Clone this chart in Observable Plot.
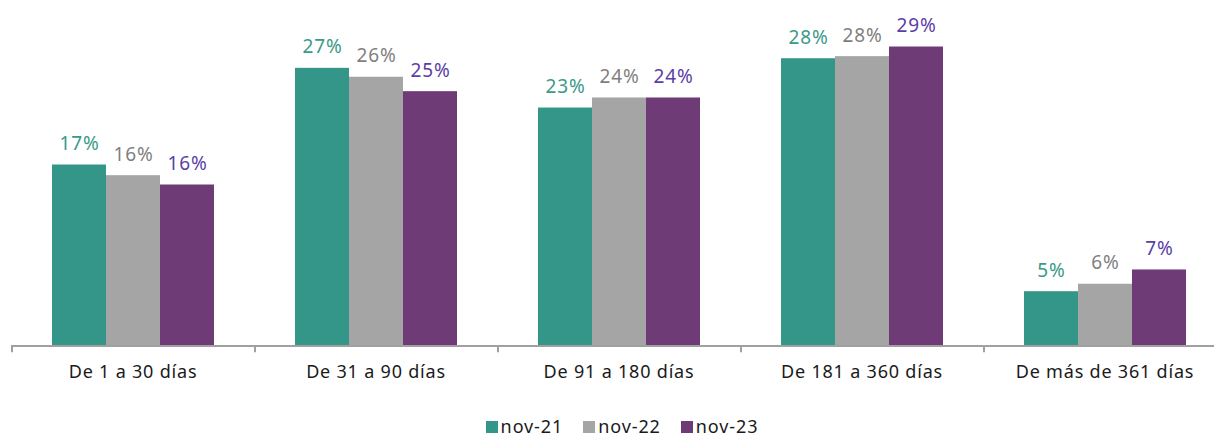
<!DOCTYPE html>
<html>
<head>
<meta charset="utf-8">
<script src="https://cdn.jsdelivr.net/npm/d3@7"></script>
<script src="https://cdn.jsdelivr.net/npm/@observablehq/plot@0.6"></script>
<style>
  html, body { margin: 0; padding: 0; background: #fff; overflow: hidden; }
  body { width: 1214px; height: 439px; font-family: "Noto Sans", sans-serif; }
  #legend { display: flex; justify-content: center; align-items: center; margin-top: 24px; font-size: 18px; letter-spacing: 0.9px; color: #1a1a1a; padding-left: 30px; line-height: 15px; height: 15px; }
  .item { display: flex; align-items: center; margin: 0 10px; }
  .sw { width: 12px; height: 12px; display: inline-block; margin-right: 3px; }
  g[aria-label="fx-axis tick label"] text { letter-spacing: 0.8px; }
  g[aria-label="text"] text { letter-spacing: 0.9px; }
</style>
</head>
<body>
<div id="chart"></div>
<div id="legend"></div>
<script>
const categories = ["De 1 a 30 días", "De 31 a 90 días", "De 91 a 180 días", "De 181 a 360 días", "De más de 361 días"];
const series = ["nov-21", "nov-22", "nov-23"];
const nov21 = [17.47, 26.8, 22.97, 27.73, 5.24];
const nov22 = [16.44, 25.94, 23.94, 27.93, 5.96];
const nov23 = [15.54, 24.55, 23.94, 28.86, 7.34];
const barColors = ["#339688", "#a5a5a5", "#6f3b77"];
const labelColors = ["#3a9a88", "#7f7f7f", "#5b3ea6"];

const valuesBySeries = [nov21, nov22, nov23];
const data = [];
categories.forEach((c, i) => {
  series.forEach((s, j) => {
    data.push({category: c, series: s, value: valuesBySeries[j][i]});
  });
});
const firstSeries = data.filter(d => d.series === series[0]);

const chart = Plot.plot({
  width: 1214,
  height: 395,
  marginLeft: 11,
  marginRight: -12,
  marginTop: 34.7,
  marginBottom: 49.5,
  style: {fontFamily: "Noto Sans, sans-serif", background: "#fff"},
  fx: {domain: categories, padding: 0, label: null},
  x: {domain: series, paddingInner: 0, paddingOuter: 0.75, axis: null},
  y: {domain: [0, 30], axis: null},
  color: {domain: series, range: barColors},
  marks: [
    Plot.barY(data, {fx: "category", x: "series", y: "value", fill: "series", inset: 0}),
    Plot.ruleY([0], {stroke: "#a0a0a0", strokeWidth: 2}),
    Plot.ruleX(firstSeries, {fx: "category", x: "series", y1: 0, y2: -0.65, dx: -67.5, stroke: "#a0a0a0", strokeWidth: 2}),
    Plot.text(data, {
      fx: "category", x: "series", y: "value",
      text: d => Math.round(d.value) + "%",
      dy: -21, fontSize: 19,
      fill: d => labelColors[series.indexOf(d.series)]
    }),
    Plot.axisFx({anchor: "bottom", tickSize: 0, tickPadding: 19, fontSize: 18, color: "#1a1a1a", label: null})
  ]
});
document.getElementById("chart").appendChild(chart);

const legend = document.getElementById("legend");
series.forEach((s, j) => {
  const it = document.createElement("div");
  it.className = "item";
  const sw = document.createElement("span");
  sw.className = "sw";
  sw.style.background = barColors[j];
  const tx = document.createElement("span");
  tx.textContent = s;
  it.appendChild(sw); it.appendChild(tx);
  legend.appendChild(it);
});
</script>
</body>
</html>
